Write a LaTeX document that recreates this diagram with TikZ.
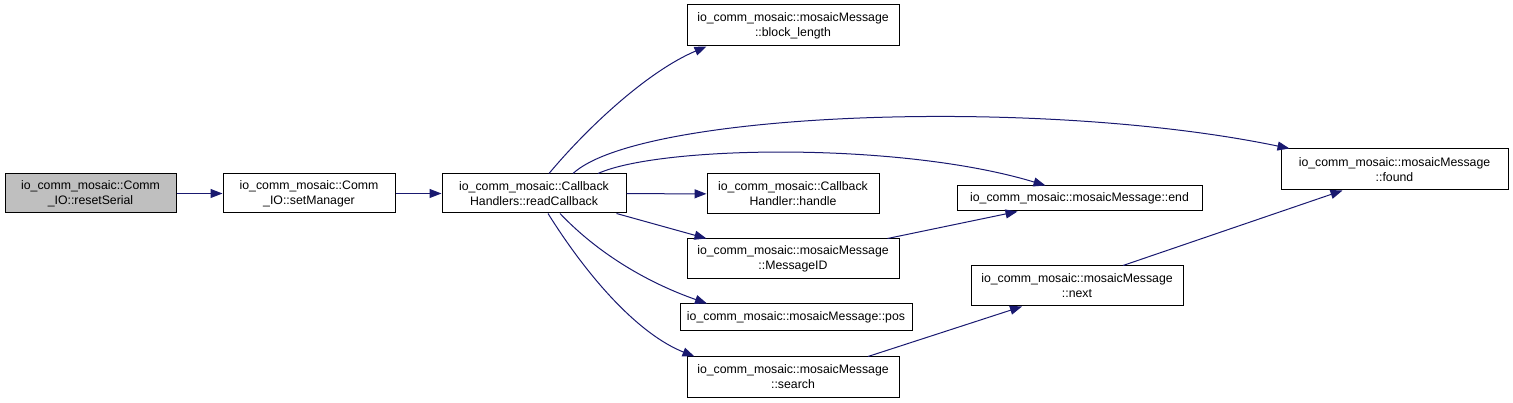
\documentclass[tikz,border=0pt]{standalone}
\usepackage{fontspec}
\setmainfont{Liberation Sans}
\usepackage{xcolor}
\usetikzlibrary{arrows.meta}
\definecolor{edgeblue}{HTML}{191970}
\definecolor{rootgray}{HTML}{BFBFBF}

\begin{document}
\begin{tikzpicture}[x=1pt, y=-1pt,
    fnbox/.style={draw=black, fill=white, line width=1pt, align=center, inner sep=2pt,
      font=\fontsize{12.3}{15}\selectfont},
    rootbox/.style={fnbox, fill=rootgray},
    callarrow/.style={draw=edgeblue, line width=1pt, -{Triangle[length=12pt, width=9pt]}}]
    \useasboundingbox (0,0) rectangle (1513,403);
    % boxes
    \node[rootbox, minimum width=171pt, minimum height=39pt] (reset) at (90.5,193.5)
      {io\_comm\_mosaic::Comm\\\_IO::resetSerial};
    \node[fnbox, minimum width=172pt, minimum height=39pt] (setmgr) at (309,193.5)
      {io\_comm\_mosaic::Comm\\\_IO::setManager};
    \node[fnbox, minimum width=184pt, minimum height=39pt] (readcb) at (534,193.5)
      {io\_comm\_mosaic::Callback\\Handlers::readCallback};
    \node[fnbox, minimum width=212pt, minimum height=41pt] (blocklen) at (793,25.5)
      {io\_comm\_mosaic::mosaicMessage\\::block\_length};
    \node[fnbox, minimum width=172pt, minimum height=40pt] (handle) at (793,194)
      {io\_comm\_mosaic::Callback\\Handler::handle};
    \node[fnbox, minimum width=212pt, minimum height=40pt] (msgid) at (793,259)
      {io\_comm\_mosaic::mosaicMessage\\::MessageID};
    \node[fnbox, minimum width=232pt, minimum height=27pt] (pos) at (796,317.5)
      {io\_comm\_mosaic::mosaicMessage::pos};
    \node[fnbox, minimum width=212pt, minimum height=40pt] (search) at (793,377)
      {io\_comm\_mosaic::mosaicMessage\\::search};
    \node[fnbox, minimum width=245pt, minimum height=25pt] (msgend) at (1079.5,198.5)
      {io\_comm\_mosaic::mosaicMessage::end};
    \node[fnbox, minimum width=212pt, minimum height=40pt] (msgnext) at (1077,286)
      {io\_comm\_mosaic::mosaicMessage\\::next};
    \node[fnbox, minimum width=227pt, minimum height=41pt] (found) at (1394.5,169.5)
      {io\_comm\_mosaic::mosaicMessage\\::found};
    % calls
    \draw[callarrow] (reset) -- (setmgr);
    \draw[callarrow] (setmgr) -- (readcb);
    \draw[callarrow] ([xshift=15pt]readcb.north) .. controls +(41,-49) and +(-57,24) .. ([xshift=20pt]blocklen.south west);
    \draw[callarrow] ([xshift=39pt]readcb.north) .. controls +(67,-62) and +(-250,-52) .. ([xshift=9pt]found.north west);
    \draw[callarrow] ([xshift=64pt]readcb.north) .. controls +(62,-28) and +(-145,-44) .. ([xshift=-34pt]msgend.north);
    \draw[callarrow] (readcb) -- (handle);
    \draw[callarrow] ([xshift=-10pt]readcb.south east) -- ([xshift=20pt]msgid.north west);
    \draw[callarrow] ([xshift=26pt]readcb.south) .. controls +(40,42) and +(-57,-20) .. ([xshift=-89pt]pos.north);
    \draw[callarrow] ([xshift=14pt]readcb.south) .. controls +(42,67) and +(-55,-22) .. ([xshift=8pt]search.north west);
    \draw[callarrow] ([xshift=-12pt]msgid.north east) -- ([xshift=-62pt]msgend.south);
    \draw[callarrow] ([xshift=75pt]search.north) -- ([xshift=-55pt]msgnext.south);
    \draw[callarrow] ([xshift=46pt]msgnext.north) -- ([xshift=-52pt]found.south);
\end{tikzpicture}
\end{document}
